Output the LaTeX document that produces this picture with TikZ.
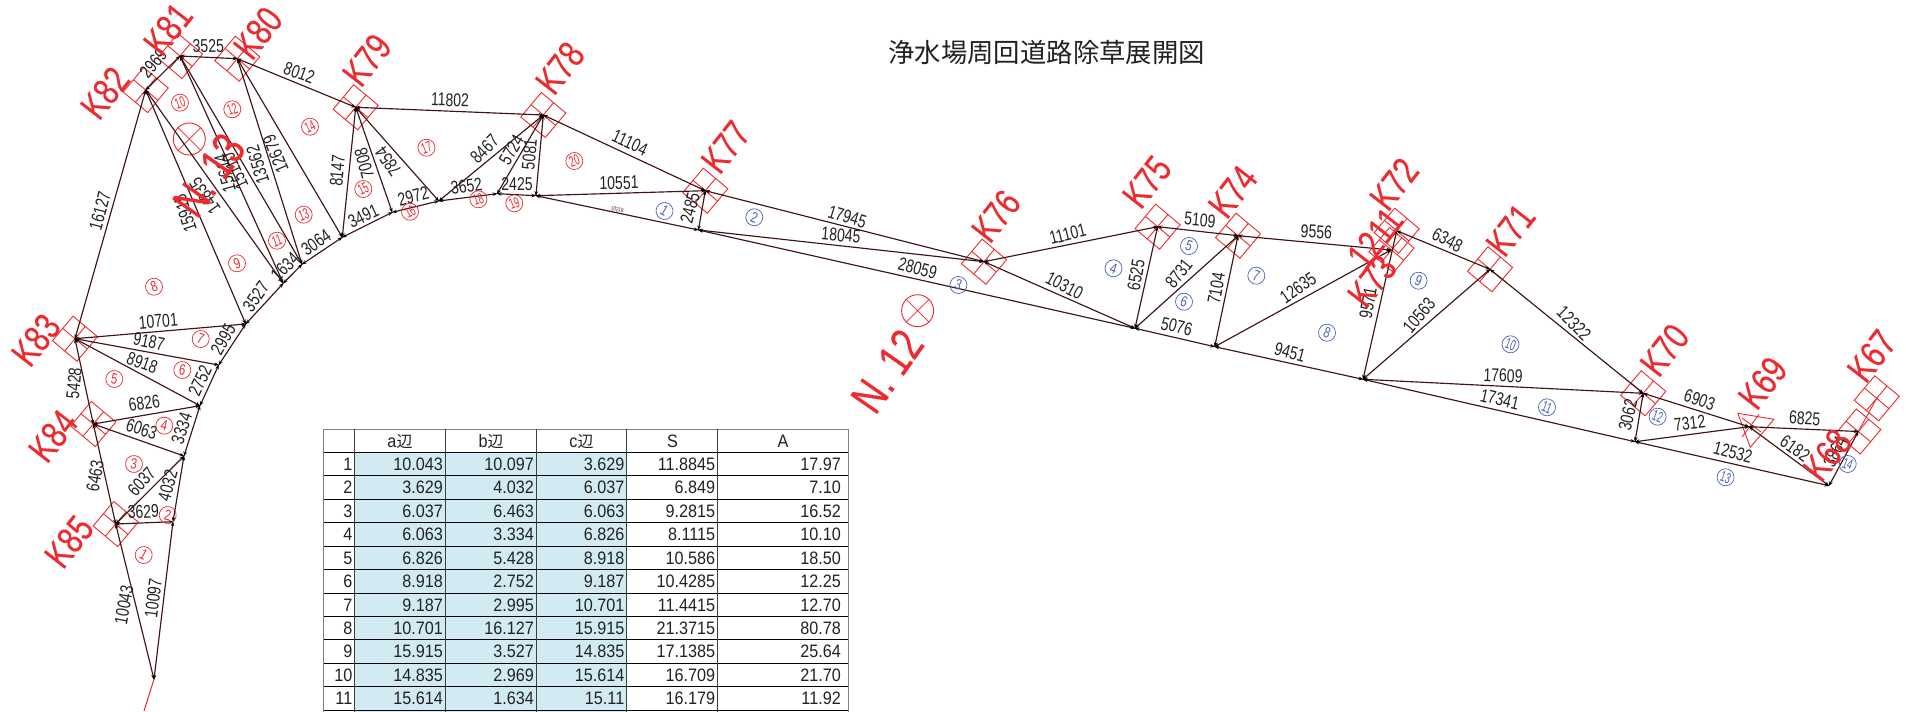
\documentclass[tikz,border=0pt]{standalone}
\usepackage{fontspec}
\usetikzlibrary{arrows.meta}
\setmainfont{Liberation Sans}
\newfontfamily\nar[FakeStretch=0.76]{Liberation Sans}
\newfontfamily\knar[FakeStretch=0.78,FakeBold=0.25]{Liberation Sans}
\newfontfamily\tabf[FakeStretch=0.9]{Liberation Sans}
\newfontfamily\cnar[FakeStretch=0.6]{Liberation Sans}
\newfontfamily\cjk{Noto Sans CJK JP}
\definecolor{rd}{HTML}{EE2A2F}
\definecolor{bl}{HTML}{4A63B8}
\definecolor{ln}{HTML}{3E1416}
\definecolor{tx}{HTML}{222222}
\definecolor{cell}{HTML}{D2EBF3}
\tikzset{
 edge/.style={draw=ln,line width=1.15pt,{Stealth[length=5pt,width=3.5pt,black]}-{Stealth[length=5pt,width=3.5pt,black]},shorten >=-0.5pt,shorten <=-0.5pt},
 lab/.style={inner sep=0pt,text=tx,font=\nar\fontsize{18.5}{18.5}\selectfont},
 klab/.style={inner sep=0pt,text=rd,rotate=52,font=\knar\fontsize{38}{38}\selectfont},
 nlab/.style={inner sep=0pt,text=rd,rotate=55,font=\knar\fontsize{47}{47}\selectfont},
 mark1/.style={draw=rd,line width=0.9pt},
 cnum/.style={circle,draw,line width=0.7pt,inner sep=0pt,minimum size=17pt},
 tcell/.style={inner sep=0pt,text=tx,font=\tabf\fontsize{18}{18}\selectfont},
}
\newcommand\mk[3]{\begin{scope}[shift={(#1,#2)},rotate=#3]
 \draw[mark1] (-16,-16) rectangle (16,16) (-16,0)--(16,0) (0,-16)--(0,16);\end{scope}}
\newcommand\lb[3]{\node[lab,rotate=#3] at (#1,#2)}
\newcommand\rc[4]{\node[cnum,draw=rd,text=rd,rotate=#3,font=\nar\fontsize{15}{15}\selectfont] (rc#4) at (#1,#2) {#4};}
\newcommand\bc[4]{\node[cnum,draw=bl,text=bl,rotate=#3,font=\nar\fontsize{15}{15}\selectfont] (bc#4) at (#1,#2) {#4};}
\newcommand\rcc[4]{\node[cnum,draw=rd,text=rd,rotate=#3,font=\cnar\fontsize{15}{15}\selectfont] (rc#4) at (#1,#2) {#4};}
\newcommand\bcc[4]{\node[cnum,draw=bl,text=bl,rotate=#3,font=\cnar\fontsize{15}{15}\selectfont] (bc#4) at (#1,#2) {#4};}
\begin{document}
\begin{tikzpicture}[x=1pt,y=-1pt]
\useasboundingbox (0,0) rectangle (1906,712);
\fill[white] (0,0) rectangle (1906,712);
% vertices
\coordinate (tip) at (154,679.3); \coordinate (tail) at (144,711);
\coordinate (K85) at (115.7,524); \coordinate (P1) at (173,521.7);
\coordinate (P3) at (184,456); \coordinate (K84) at (93.3,424);
\coordinate (P5) at (200,405.7); \coordinate (P6) at (218.7,365);
\coordinate (K83) at (75,338.7); \coordinate (H) at (245.7,324);
\coordinate (K82) at (145.7,90); \coordinate (K81) at (180,56);
\coordinate (K80) at (237.3,58.7); \coordinate (K79) at (355.7,107.3);
\coordinate (K78) at (543.3,115);
\coordinate (A) at (283.3,283.3); \coordinate (B) at (302,264.3);
\coordinate (C) at (342.3,237.3); \coordinate (D) at (392.3,212.3);
\coordinate (E) at (438.8,201); \coordinate (F) at (497.1,193.7);
\coordinate (G) at (535.9,195.7);
\coordinate (K77) at (705.3,190.7); \coordinate (J) at (698.4,230);
\coordinate (K76) at (984,261.7); \coordinate (K75) at (1157.6,226.7);
\coordinate (K74) at (1238,235.7); \coordinate (L) at (1135,328.3);
\coordinate (M) at (1214.7,346.7);
\coordinate (K73) at (1391,250); \coordinate (K72) at (1396.7,230.7);
\coordinate (K71) at (1490,269.3); \coordinate (N) at (1363,379.3);
\coordinate (K70) at (1643.2,393.3); \coordinate (O) at (1635,441.7);
\coordinate (K69) at (1749,426.7); \coordinate (K67) at (1858.3,431.5);
\coordinate (K68) at (1829,485.7); \coordinate (K67u) at (1876.7,398.3);
% table
\fill[cell] (354.6,452.3) rectangle (626.8,712);
\foreach \y in {452.3,475.7,499.3,522.7,546,569.7,593,616.3,639.7,663.3,686.7,710}
  \draw[black,line width=0.8pt] (323.6,\y)--(848.6,\y);
\draw[gray,line width=1pt] (323.6,429.3)--(848.6,429.3);
\foreach \x in {354.6,445.7,536.4,626.8,717.5}
  \draw[black!75,line width=0.9pt] (\x,429.3)--(\x,712);
\foreach \x in {323.6,848.6}
  \draw[gray,line width=1pt] (\x,429.3)--(\x,712);
\node[tcell] (ha) at (400,441.5) {a{\cjk\fontsize{16}{16}\selectfont 辺}};
\node[tcell] (hb) at (491,441.5) {b{\cjk\fontsize{16}{16}\selectfont 辺}};
\node[tcell] (hc) at (581.5,441.5) {c{\cjk\fontsize{16}{16}\selectfont 辺}};
\node[tcell] (hs) at (672.5,441.5) {S};
\node[tcell] (hA) at (783,441.5) {A};
\foreach \r/\y/\a/\b/\c/\s/\q in {
 1/464/10.043/10.097/3.629/11.8845/17.97,
 2/487.5/3.629/4.032/6.037/6.849/7.10,
 3/511/6.037/6.463/6.063/9.2815/16.52,
 4/534.5/6.063/3.334/6.826/8.1115/10.10,
 5/558/6.826/5.428/8.918/10.586/18.50,
 6/581.5/8.918/2.752/9.187/10.4285/12.25,
 7/605/9.187/2.995/10.701/11.4415/12.70,
 8/628/10.701/16.127/15.915/21.3715/80.78,
 9/651.5/15.915/3.527/14.835/17.1385/25.64,
 10/675/14.835/2.969/15.614/16.709/21.70,
 11/698.5/15.614/1.634/15.11/16.179/11.92}{
 \node[tcell,anchor=east] (r\r) at (352.5,\y) {\r};
 \node[tcell,anchor=east] (a\r) at (443,\y) {\a};
 \node[tcell,anchor=east] (b\r) at (534,\y) {\b};
 \node[tcell,anchor=east] (c\r) at (624.5,\y) {\c};
 \node[tcell,anchor=east] (s\r) at (715.4,\y) {\s};
 \node[tcell,anchor=east] (q\r) at (841,\y) {\q};
}
% markers
\mk{115.7}{524}{50}\mk{93.3}{424}{50}\mk{75}{338.7}{50}\mk{145.7}{90}{50}
\mk{180}{56}{50}\mk{237.3}{58.7}{50}\mk{355.7}{107.3}{50}\mk{543.3}{115}{50}
\mk{705.3}{190.7}{50}\mk{984}{261.7}{50}\mk{1157.6}{226.7}{50}\mk{1238}{235.7}{50}
\mk{1391.5}{250}{50}\mk{1396.7}{230.7}{50}\mk{1490}{269.3}{50}\mk{1643.2}{393.3}{50}
\mk{1858.3}{431.5}{50}\mk{1876.7}{398.3}{50}
\draw[mark1] (1737.8,413.3)--(1773.9,419.3)--(1750.3,447.3)--cycle;
\draw[mark1] (1759,414.5)--(1742,437) (1742,418)--(1761,432);
\draw[draw=rd,line width=0.9pt] (K67)--(K67u);
\draw[draw=rd,line width=1pt] (tip)--(tail);
% circles and north marks
\foreach \cx/\cy/\cn in {189.3/139/m13,917.6/310.7/m12}{
 \node[circle,draw=rd,line width=0.9pt,minimum size=32pt,inner sep=0pt] (\cn) at (\cx,\cy) {};
 \draw[draw=rd,line width=0.7pt] (\cn.45)--(\cn.225) (\cn.135)--(\cn.315);
}
% edges
\foreach \a/\b in {tip/K85,tip/P1,K85/P1,K85/P3,P1/P3,K85/K84,K84/P3,K84/P5,P3/P5,K84/K83,K83/P5,K83/P6,P5/P6,K83/H,P6/H,K83/K82,K82/H,H/A,K82/A,K82/K81,K81/A,A/B,K81/B,K81/K80,K80/B,B/C,K80/C,K80/K79,K79/C,C/D,K79/D,D/E,K79/E,K79/K78,K78/E,E/F,K78/F,F/G,K78/G,K78/K77,G/K77,K77/J,G/J,K77/K76,J/K76,J/L,K76/K75,K76/L,K75/L,K75/K74,L/K74,L/M,K74/M,K74/K73,M/K73,M/N,K72/N,K72/K71,N/K71,K71/K70,N/K70,N/O,K70/O,K70/K69,O/K69,O/K68,K69/K68,K69/K67,K68/K67}
  \draw[edge] (\a)--(\b);
% edge labels
\lb{124}{605}{80} {10043};
\lb{153.3}{598.3}{83} {10097};
\lb{143.3}{511.7}{3} {3629};
\lb{141.7}{481.7}{48} {6037};
\lb{167.7}{485.7}{75} {4032};
\lb{95}{476}{80} {6463};
\lb{141.7}{429.3}{-18} {6063};
\lb{181.7}{428.3}{72} {3334};
\lb{144.3}{403.3}{8} {6826};
\lb{74}{383.3}{85} {5428};
\lb{142.3}{362.7}{-20} {8918};
\lb{200}{380.7}{65} {2752};
\lb{149}{341.7}{-12} {9187};
\lb{158.3}{321}{5} {10701};
\lb{223.3}{339.3}{60} {2995};
\lb{256}{296.7}{55} {3527};
\lb{100}{210.7}{75} {16127};
\lb{185}{213.3}{108} {15915};
\lb{205}{196}{125} {14835};
\lb{225}{173}{105} {15614};
\lb{235}{171}{115} {15110};
\lb{257.7}{165}{107} {13562};
\lb{275.7}{154}{113} {12679};
\lb{153.3}{63.3}{50} {2969};
\lb{208.3}{46}{2} {3525};
\lb{299.3}{72.7}{-20} {8012};
\lb{450}{100}{-2} {11802};
\lb{285}{266.7}{45} {1634};
\lb{316}{242.7}{35} {3064};
\lb{363.3}{216}{25} {3491};
\lb{413.3}{196.7}{15} {2972};
\lb{466.5}{186}{8} {3652};
\lb{517}{184}{0} {2425};
\lb{337.3}{170.7}{85} {8147};
\lb{364.3}{163.3}{105} {7008};
\lb{388.3}{161.7}{125} {7854};
\lb{484.5}{149}{45} {8467};
\lb{511.4}{150}{60} {5724};
\lb{529.4}{154.3}{85} {5081};
\lb{630}{143}{-25} {11104};
\lb{619}{182.7}{1} {10551};
\node[lab,rotate=-12,font=\nar\fontsize{6}{6}\selectfont] (Ls) at (617.3,209.3) {10219};
\lb{690}{208}{75} {2485};
\lb{847.3}{216.7}{-17} {17945};
\lb{841}{235}{-5} {18045};
\lb{917.6}{268.3}{-15} {28059};
\lb{1067.8}{234.3}{14} {11101};
\lb{1064.5}{285.7}{-28} {10310};
\lb{1136}{275}{80} {6525};
\lb{1178.8}{273.3}{52} {8731};
\lb{1216.3}{288.3}{80} {7104};
\lb{1200}{220}{-5} {5109};
\lb{1176.7}{326.7}{-14} {5076};
\lb{1316.4}{231.7}{-3} {9556};
\lb{1298}{287.7}{35} {12635};
\lb{1290}{352}{-15} {9451};
\lb{1368}{303}{80} {9571};
\lb{1419}{315.7}{50} {10563};
\lb{1447.5}{240}{-28} {6348};
\lb{1574}{323.3}{-45} {12322};
\lb{1503}{375.7}{-2} {17609};
\lb{1499.8}{399.3}{-13} {17341};
\lb{1628}{415}{77} {3062};
\lb{1699.6}{400}{-20} {6903};
\lb{1689.7}{423.3}{7} {7312};
\lb{1733}{452.7}{-15} {12532};
\lb{1804.7}{418.3}{-3} {6825};
\lb{1795}{448.3}{-35} {6182};
\lb{1835}{451.7}{65} {3864};
% numbered circles
\rc{143.7}{555}{-30}{1}\rc{167.7}{515}{-15}{2}\rc{134}{464}{-10}{3}\rc{164.3}{425.7}{-15}{4}
\rc{114.3}{379}{-10}{5}\rc{182.3}{370}{-10}{6}\rc{200.7}{339}{-20}{7}\rc{154}{286.7}{20}{8}
\rc{237}{263.3}{20}{9}\rcc{180}{102.7}{20}{10}\rcc{277}{240.7}{20}{11}\rcc{232.3}{109.3}{20}{12}
\rcc{303.7}{214.7}{20}{13}\rcc{310}{126.7}{25}{14}\rcc{363.3}{189}{25}{15}\rcc{410}{211.7}{30}{16}
\rcc{426.5}{147.7}{20}{17}\rcc{478.4}{199.3}{20}{18}\rcc{514.3}{203.3}{20}{19}\rcc{574.3}{161}{20}{20}
\bc{664.5}{211}{-30}{1}\bc{754.3}{217.3}{-20}{2}\bc{958.4}{285}{-20}{3}\bc{1113.5}{268.3}{-20}{4}
\bc{1189}{246}{-20}{5}\bc{1184}{301.7}{-20}{6}\bc{1256.3}{275.7}{-20}{7}\bc{1327}{332.7}{-20}{8}
\bc{1418.6}{280.7}{-20}{9}\bcc{1510.5}{344.3}{-20}{10}\bcc{1547}{407.3}{-20}{11}\bcc{1657.6}{416.7}{-20}{12}
\bcc{1725.6}{477.3}{-20}{13}\bcc{1847.7}{464}{-20}{14}
% K labels
\foreach \n/\x/\y in {K81/168/29,K80/258/33,K82/105/93,K79/367/60,K78/560/68,K83/36/340,K84/53/436,K85/69/541.7,K77/725.7/147,K76/996/216,K75/1147/182,K74/1232.7/191.7,K72/1394/184,K73/1372/281,K71/1510.5/230,K70/1664.6/350,K69/1762.7/383,K68/1827.3/455,K67/1871.7/356}
 \node[klab] (t\n) at (\x,\y) {\n};
\node[klab] (t1211) at (1375,238) {1211};
\node[nlab] (tN12) at (887,371) {N. 12};
\node[nlab] (tN13) at (209,175) {N. 13};
% title
\node[inner sep=0pt,text=tx,font=\cjk\fontsize{26.4}{26.4}\selectfont] (title) at (1046.7,52.3) {浄水場周回道路除草展開図};
\end{tikzpicture}
\end{document}
